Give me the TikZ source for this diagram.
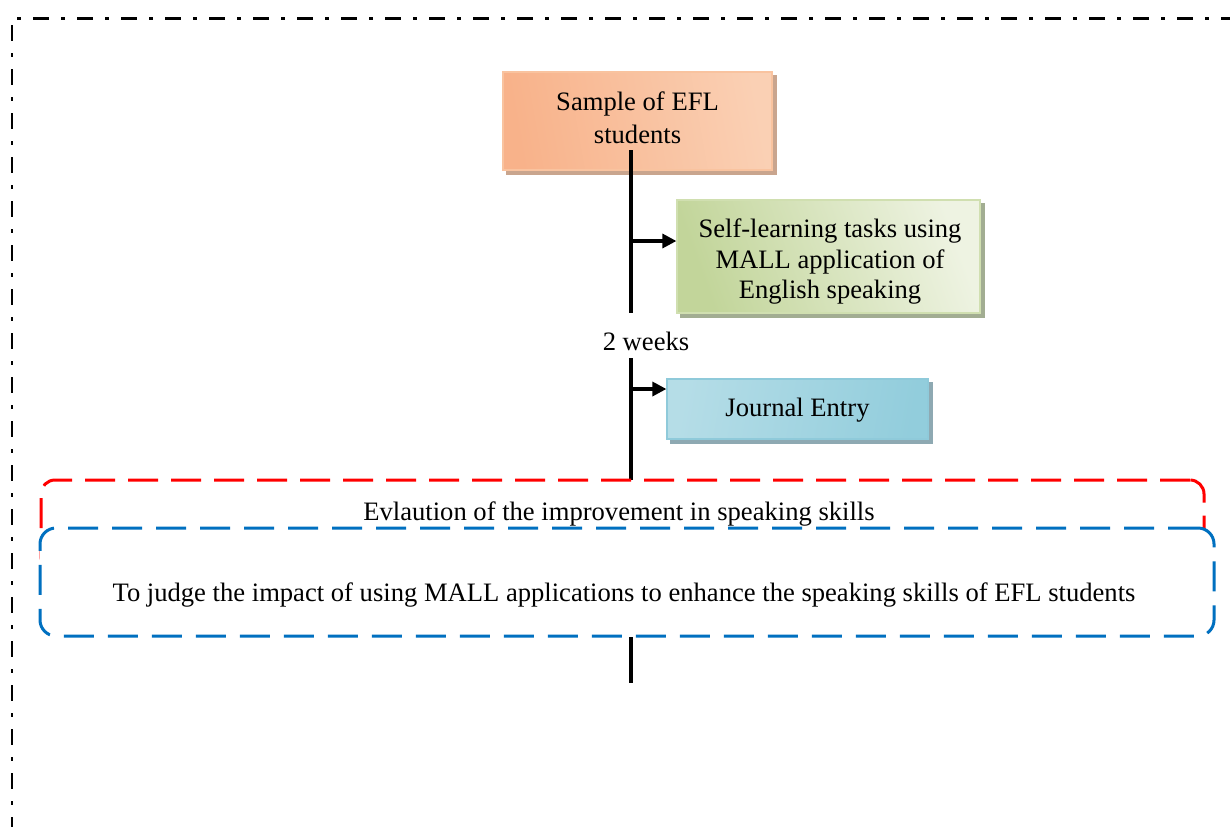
\documentclass[tikz,border=0pt]{standalone}
\usepackage{fontspec}
\setmainfont{Liberation Serif}
\usetikzlibrary{arrows.meta,backgrounds}
\definecolor{oD}{HTML}{F8B28A}
\definecolor{oL}{HTML}{FDEADF}
\definecolor{oM}{HTML}{FAD0B4}
\definecolor{oB}{HTML}{F9C39F}
\definecolor{oS}{HTML}{C9A58E}
\definecolor{gD}{HTML}{C2D59A}
\definecolor{gL}{HTML}{EEF3E2}
\definecolor{gM}{HTML}{DCE8C6}
\definecolor{gB}{HTML}{D0DFB0}
\definecolor{gS}{HTML}{A2AD92}
\definecolor{bD}{HTML}{92CDDC}
\definecolor{bL}{HTML}{E2F1F5}
\definecolor{bM}{HTML}{B5DDE7}
\definecolor{bB}{HTML}{8FCADA}
\definecolor{bS}{HTML}{8EA9B2}
\definecolor{redD}{HTML}{FF0000}
\definecolor{blueD}{HTML}{0070C0}
\begin{document}
\begin{tikzpicture}[x=0.5pt,y=-0.5pt,
  box/.style={draw, line width=0.6pt, inner sep=0pt},
  txt/.style={font=\fontsize{13.3}{16}\selectfont, inner sep=0pt, align=center},
  conn/.style={line width=1.6pt},
  arr/.style={line width=1.6pt, -{Triangle[length=7pt,width=7pt]}},
  redframe/.style={draw=redD, line width=1.5pt, dash pattern=on 15pt off 6.5pt, rounded corners=7pt, inner sep=0pt},
  blueframe/.style={draw=blueD, fill=white, line width=1.5pt, dash pattern=on 15pt off 7pt, rounded corners=8pt, inner sep=0pt}]
\useasboundingbox (0,0) rectangle (1230,826);

% outer dash-dot frame
\coordinate (ftl) at (17,18);
\coordinate (ftr) at (1240,18);
\coordinate (fl1) at (12,25);
\coordinate (fl2) at (12,840);
\draw[line width=1.5pt, dash pattern=on 2pt off 6pt on 8pt off 6pt] (ftl) -- (ftr);
\draw[line width=1.1pt, dash pattern=on 8pt off 6pt on 2pt off 6pt] (fl1) -- (fl2);

% boxes
\node[box, draw=oB, left color=oD, middle color=oL, right color=oM, shading angle=100,
      minimum width=134.5pt, minimum height=49pt] (sample) at (637.5,121) {};
\node[box, draw=gB, left color=gD, middle color=gM, right color=gL, shading angle=110,
      minimum width=151.5pt, minimum height=56.5pt] (task) at (828.5,256.5) {};
\node[box, draw=bB, left color=bM, middle color=bL, right color=bD, shading angle=80,
      minimum width=130.5pt, minimum height=30pt] (journal) at (797.5,409) {};

\node[txt, font=\fontsize{13.3}{16.5}\selectfont] (sampletext) at (637.5,118) {Sample of EFL\\students};
\node[txt, font=\fontsize{13.3}{15.3}\selectfont] (tasktext) at (830,261.5) {Self-learning tasks using\\MALL application of\\English speaking};
\node[txt] (journaltext) at (797.5,410) {Journal Entry};

\begin{scope}[on background layer]
  \fill[oS] ([shift={(4,4)}]sample.north west) rectangle ([shift={(4,4)}]sample.south east);
  \fill[gS] ([shift={(4,4)}]task.north west) rectangle ([shift={(4,4)}]task.south east);
  \fill[bS] ([shift={(4,4)}]journal.north west) rectangle ([shift={(4,4)}]journal.south east);
\end{scope}

% timeline
\coordinate (s1a) at (631,150);
\coordinate (s1b) at (631,313);
\draw[conn] (s1a) -- (s1b);
\coordinate (a1) at (631,241);
\draw[arr] (a1) -- (a1 -| task.west);

\node[txt] (weeks) at (646,341) {2 weeks};

\coordinate (s2a) at (631,358);
\coordinate (s2b) at (631,480);
\draw[conn] (s2a) -- (s2b);
\coordinate (a2) at (631,389);
\draw[arr] (a2) -- (a2 -| journal.west);

% evaluation frames
\node[redframe, minimum width=581.5pt, minimum height=45pt] (evalbox) at (622.5,525) {};
\node[blueframe, minimum width=587pt, minimum height=54pt] (aimbox) at (627,582) {};
\node[txt] (evaltext) at (619,514) {Evlaution of the improvement in speaking skills};
\node[txt] (aimtext) at (624,595) {To judge the impact of using MALL applications to enhance the speaking skills of EFL students};

\coordinate (s3a) at (631,637);
\coordinate (s3b) at (631,683);
\draw[conn] (s3a) -- (s3b);
\end{tikzpicture}
\end{document}
